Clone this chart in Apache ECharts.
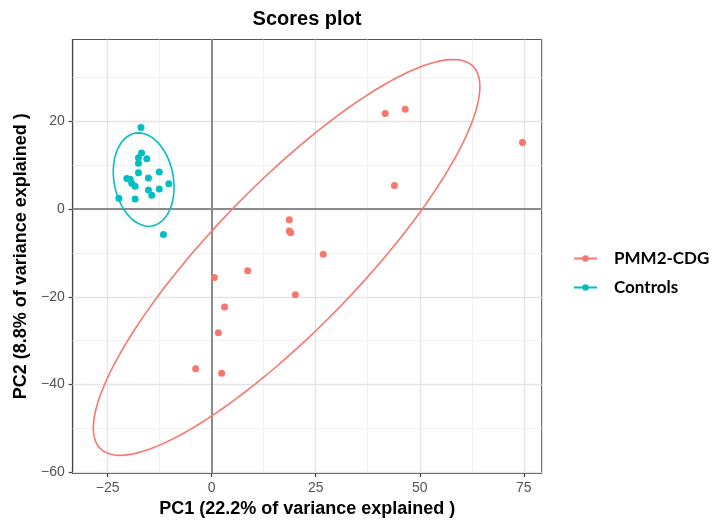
<!DOCTYPE html>
<html><head><meta charset="utf-8">
<script src="https://cdn.jsdelivr.net/npm/echarts@6/dist/echarts.min.js"></script>
<style>html,body{margin:0;padding:0;background:#fff}#c{width:712px;height:523px}</style>
</head><body><div id="c"></div>
<script>
const groups = ['PMM2-CDG', 'Controls'];
const pmmX = [74.7, 41.7, 46.5, 43.9, 18.65, 18.65, 19.0, 26.8, 8.65, 0.63, 20.1, 3.1, 1.6, -3.85, 2.4];
const pmmY = [15.2, 21.8, 22.8, 5.4, -2.4, -5.0, -5.4, -10.3, -14.05, -15.6, -19.5, -22.3, -28.2, -36.4, -37.4];
const ctrlX = [-17.0, -16.85, -17.6, -15.6, -17.6, -17.6, -12.6, -15.2, -20.4, -19.6, -19.2, -18.4, -10.3, -12.6, -15.2, -14.4, -22.3, -18.4, -11.6];
const ctrlY = [18.6, 12.8, 11.7, 11.5, 10.5, 8.3, 8.5, 7.1, 7.0, 6.8, 5.9, 5.25, 5.8, 4.6, 4.35, 3.2, 2.5, 2.3, -5.8];
const xTicks = [-25, 0, 25, 50, 75];
const yTicks = [-60, -40, -20, 0, 20];
const xMinor = [-12.5, 12.5, 37.5, 62.5];
const yMinor = [-50, -30, -10, 10, 30];
// ellipse shape: [cx, cy, sxx, sxy, syy]
const pmmEllipse = [18, -11, 2157.6, 1808, 2038.5];
const ctrlEllipse = [-16.35, 6.75, 53.3, -13, 113.4];

const RED = '#F8766D', CYAN = '#00BFC4';

function ellipse(p) {
  const [cx, cy, sxx, sxy, syy] = p;
  const l11 = Math.sqrt(sxx), l21 = sxy / l11, l22 = Math.sqrt(syy - l21 * l21);
  const pts = [];
  for (let i = 0; i <= 120; i++) {
    const t = 2 * Math.PI * i / 120;
    pts.push([cx + l11 * Math.cos(t), cy + l21 * Math.cos(t) + l22 * Math.sin(t)]);
  }
  return pts;
}
const fmt = v => String(v).replace('-', '\u2212');

const gridLines = [];
xMinor.forEach(v => gridLines.push({xAxis: v, lineStyle: {color: '#f2f2f2', width: 1, type: 'solid'}}));
yMinor.forEach(v => gridLines.push({yAxis: v, lineStyle: {color: '#f2f2f2', width: 1, type: 'solid'}}));
xTicks.forEach(v => gridLines.push({xAxis: v, lineStyle: {color: '#e4e4e4', width: 1.3, type: 'solid'}}));
yTicks.forEach(v => gridLines.push({yAxis: v, lineStyle: {color: '#e4e4e4', width: 1.3, type: 'solid'}}));
const zeroLines = [
  {xAxis: 0, lineStyle: {color: '#8c8c8c', width: 2, type: 'solid'}},
  {yAxis: 0, lineStyle: {color: '#8c8c8c', width: 2, type: 'solid'}}
];

const chart = echarts.init(document.getElementById('c'), null, {renderer: 'canvas'});
chart.setOption({
  animation: false,
  textStyle: {fontFamily: 'Liberation Sans'},
  graphic: [{
    type: 'text', x: 307, y: 19, z: 10,
    style: {text: 'Scores plot', textAlign: 'center', textVerticalAlign: 'middle',
      font: 'bold 20px "Liberation Sans"', fill: '#000'}
  }],
  grid: {left: 72.7, right: 170.3, top: 39.5, bottom: 45, show: true,
    borderColor: '#555', borderWidth: 1, backgroundColor: '#fff'},
  legend: {
    data: groups, orient: 'vertical', left: 568, top: 245, padding: 5,
    itemWidth: 23, itemHeight: 8, itemGap: 12,
    textStyle: {fontFamily: 'Lato', fontWeight: 'bold', fontSize: 17, color: '#000', padding: [0, 0, 0, 12]}
  },
  xAxis: {
    type: 'value', min: -33.4, max: 79.3,
    axisLine: {show: true, onZero: false, lineStyle: {color: '#444', width: 1.2}},
    axisTick: {show: true, customValues: xTicks, length: 4, lineStyle: {color: '#444', width: 1.2}},
    axisLabel: {customValues: xTicks, formatter: fmt, color: '#555', fontSize: 14, margin: 8},
    splitLine: {show: false},
    name: 'PC1 (22.2% of variance explained )', nameLocation: 'middle', nameGap: 24,
    nameTextStyle: {fontWeight: 'bold', fontSize: 18, color: '#000'}
  },
  yAxis: {
    type: 'value', min: -60.2, max: 38.7,
    axisLine: {show: true, onZero: false, lineStyle: {color: '#444', width: 1.2}},
    axisTick: {show: true, customValues: yTicks, length: 4, lineStyle: {color: '#444', width: 1.2}},
    axisLabel: {customValues: yTicks, formatter: fmt, color: '#555', fontSize: 14, margin: 8},
    splitLine: {show: false},
    name: 'PC2 (8.8% of variance explained )', nameLocation: 'middle', nameGap: 37,
    nameTextStyle: {fontWeight: 'bold', fontSize: 18, color: '#000'}
  },
  series: [
    {name: 'PMM2-CDG', type: 'line', data: ellipse(pmmEllipse), showSymbol: false, symbol: 'circle',
      symbolSize: 7, lineStyle: {color: RED, width: 1.6}, itemStyle: {color: RED}, z: 3, silent: true},
    {name: 'Controls', type: 'line', data: ellipse(ctrlEllipse), showSymbol: false, symbol: 'circle',
      symbolSize: 7, lineStyle: {color: CYAN, width: 1.6}, itemStyle: {color: CYAN}, z: 3, silent: true},
    {name: 'grid', type: 'scatter', data: [], z: 1, silent: true,
      markLine: {silent: true, z: 1, symbol: ['none', 'none'], label: {show: false}, data: gridLines}},
    {name: 'zero', type: 'scatter', data: [], z: 2, silent: true,
      markLine: {silent: true, z: 2, symbol: ['none', 'none'], label: {show: false}, data: zeroLines}},
    {name: 'PMM2-CDG', type: 'scatter', data: pmmX.map((x, i) => [x, pmmY[i]]), symbolSize: 7,
      itemStyle: {color: RED, opacity: 1}, z: 4},
    {name: 'Controls', type: 'scatter', data: ctrlX.map((x, i) => [x, ctrlY[i]]), symbolSize: 7,
      itemStyle: {color: CYAN, opacity: 1}, z: 4}
  ]
});
</script></body></html>
